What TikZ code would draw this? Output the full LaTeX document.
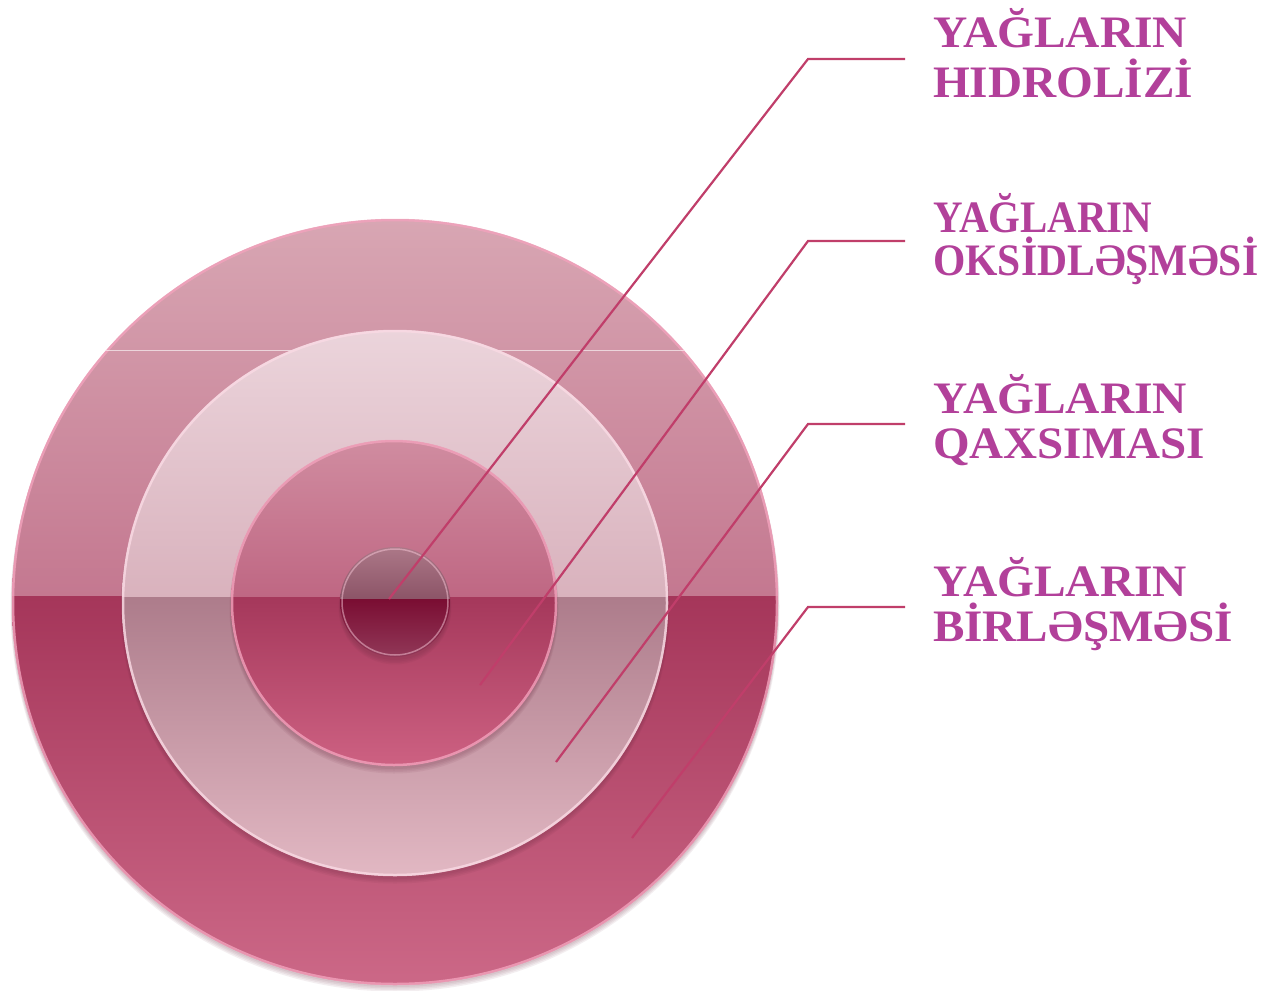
\documentclass[tikz,border=0pt]{standalone}
\usepackage{fontspec}
\setmainfont{Liberation Serif}
\usepackage{graphicx}
\definecolor{txt}{HTML}{B2409A}
\definecolor{conn}{HTML}{C03E6A}
\definecolor{rim}{HTML}{F2A2BC}
\definecolor{shd}{HTML}{6A2A40}
\definecolor{oA}{HTML}{D8A6B3}\definecolor{oB}{HTML}{C47890}\definecolor{oC}{HTML}{A5365A}\definecolor{oD}{HTML}{CC6887}
\definecolor{lA}{HTML}{EBD4DB}\definecolor{lB}{HTML}{D9B2BD}\definecolor{lC}{HTML}{AD7C8B}\definecolor{lD}{HTML}{E2B8C3}
\definecolor{tA}{HTML}{D08CA0}\definecolor{tB}{HTML}{BF6783}\definecolor{tC}{HTML}{A5385B}\definecolor{tD}{HTML}{CD6182}
\definecolor{iA}{HTML}{AC7888}\definecolor{iB}{HTML}{8C5467}\definecolor{iC}{HTML}{7A0D32}\definecolor{iD}{HTML}{913858}
\newcommand\mydisc[8]{%
  \begin{scope}
    \clip (#1,#2) circle (#3);
    \shade[top color=#5, bottom color=#6] ({#1-#3},{#2-#3}) rectangle ({#1+#3},#4);
    \shade[top color=#7, bottom color=#8] ({#1-#3},#4) rectangle ({#1+#3},{#2+#3});
  \end{scope}}
\newcommand\myshadow[3]{%
  \foreach \k in {0,1,2,3}{\fill[shd,opacity=0.08] (#1,{#2+3+\k}) circle ({#3+\k/2});}}
\begin{document}
\begin{tikzpicture}[x=1pt,y=-1pt,
  lbl/.style={text=txt, font=\fontsize{45}{50}\bfseries\selectfont, inner sep=0pt, anchor=base west},
  connline/.style={draw=conn, line width=2.2pt, line join=miter}]
\useasboundingbox (0,0) rectangle (1268,990);
% outer disc
\myshadow{395}{601}{383}
\mydisc{395}{602}{383}{596}{oA}{oB}{oC}{oD}
\draw[rim, line width=2.5pt, opacity=0.8] (395,602) circle (382);
\begin{scope}
  \clip (395,602) circle (383);
  \draw[white, opacity=0.6, line width=1pt] (0,350) -- (800,350);
\end{scope}
% light ring
\myshadow{395}{603}{273}
\mydisc{395}{603}{273}{597}{lA}{lB}{lC}{lD}
\draw[white!60!rim, line width=2.5pt, opacity=0.8] (395,603) circle (272);
% third disc
\myshadow{394}{603}{163}
\mydisc{394}{603}{163}{597}{tA}{tB}{tC}{tD}
\draw[rim, line width=2.5pt, opacity=0.8] (394,603) circle (162);
% inner disc
\myshadow{395}{602}{55}
\mydisc{395}{602}{55}{599}{iA}{iB}{iC}{iD}
\draw[rim!60!white, line width=1.5pt, opacity=0.5] (395,602) circle (53);
% connectors
\coordinate (p1) at (389,599); \coordinate (k1) at (808,59);  \coordinate (e1) at (905,59);
\coordinate (p2) at (480,685); \coordinate (k2) at (808,241); \coordinate (e2) at (905,241);
\coordinate (p3) at (556,762); \coordinate (k3) at (808,424); \coordinate (e3) at (905,424);
\coordinate (p4) at (632,838); \coordinate (k4) at (808,607); \coordinate (e4) at (905,607);
\draw[connline] (p1) -- (k1) -- (e1);
\draw[connline] (p2) -- (k2) -- (e2);
\draw[connline] (p3) -- (k3) -- (e3);
\draw[connline] (p4) -- (k4) -- (e4);
% labels
\node[lbl] (l1a) at (933,48)  {\resizebox{254pt}{\height}{YAĞLARIN}};
\node[lbl] (l1b) at (933,97)  {\resizebox{260pt}{\height}{HIDROLİZİ}};
\node[lbl] (l2a) at (933,232) {\resizebox{219pt}{\height}{YAĞLARIN}};
\node[lbl] (l2b) at (933,275) {\resizebox{325pt}{\height}{OKSİDLƏŞMƏSİ}};
\node[lbl] (l3a) at (933,413) {\resizebox{254pt}{\height}{YAĞLARIN}};
\node[lbl] (l3b) at (933,458) {\resizebox{272pt}{\height}{QAXSIMASI}};
\node[lbl] (l4a) at (933,596) {\resizebox{254pt}{\height}{YAĞLARIN}};
\node[lbl] (l4b) at (933,641) {\resizebox{300pt}{\height}{BİRLƏŞMƏSİ}};
\end{tikzpicture}
\end{document}
